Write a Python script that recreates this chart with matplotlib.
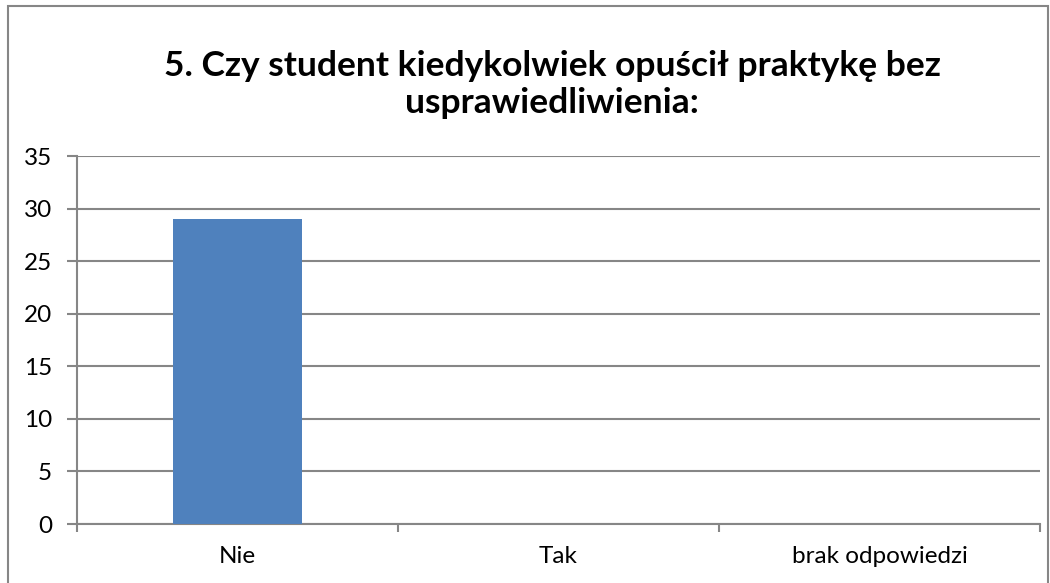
import matplotlib
matplotlib.use("Agg")
import matplotlib.pyplot as plt
from matplotlib.patches import Rectangle

plt.rcParams['font.family'] = ['Lato', 'DejaVu Sans']

# dane
kategorie = ["Nie", "Tak", "brak odpowiedzi"]
wartosci = [29, 0, 0]
tytul = "5. Czy student kiedykolwiek opuścił praktykę bez\nusprawiedliwienia:"

fig = plt.figure(figsize=(10.5, 5.83), dpi=100)
ax = fig.add_axes([0.0733, 0.1012, 0.9172, 0.6312])

x = list(range(len(kategorie)))
ax.bar(x, wartosci, width=0.4, color='#4F81BD', zorder=3)

ax.set_xlim(-0.5, len(kategorie) - 0.5)
ax.set_ylim(0, 35)
ax.set_yticks(range(0, 36, 5))
ax.yaxis.grid(True, color='#868686', linewidth=1.5, zorder=0)

ax.set_xticks(x)
ax.set_xticklabels(kategorie, fontsize=17.5)
ax.set_xticks([i - 0.5 for i in range(len(kategorie) + 1)], minor=True)
ax.tick_params(axis='x', which='major', length=0, pad=16)
ax.tick_params(axis='x', which='minor', length=6, width=1.5, color='#868686', direction='out')
ax.tick_params(axis='y', length=7, width=1.5, color='#868686', labelsize=17.5, pad=11)

for s in ['top', 'right']:
    ax.spines[s].set_visible(False)
for s in ['left', 'bottom']:
    ax.spines[s].set_color('#868686')
    ax.spines[s].set_linewidth(1.5)

fig.text(0.526, 0.855, tytul, ha='center', va='center', fontsize=25.5,
         fontweight='bold', linespacing=1.2)

# ramka wykresu
fig.patches.append(Rectangle((8 / 1050, -0.01), 1040 / 1050, 1.0, transform=fig.transFigure,
                             fill=False, edgecolor='#868686', linewidth=1.5))

fig.savefig('out.png', dpi=100)
